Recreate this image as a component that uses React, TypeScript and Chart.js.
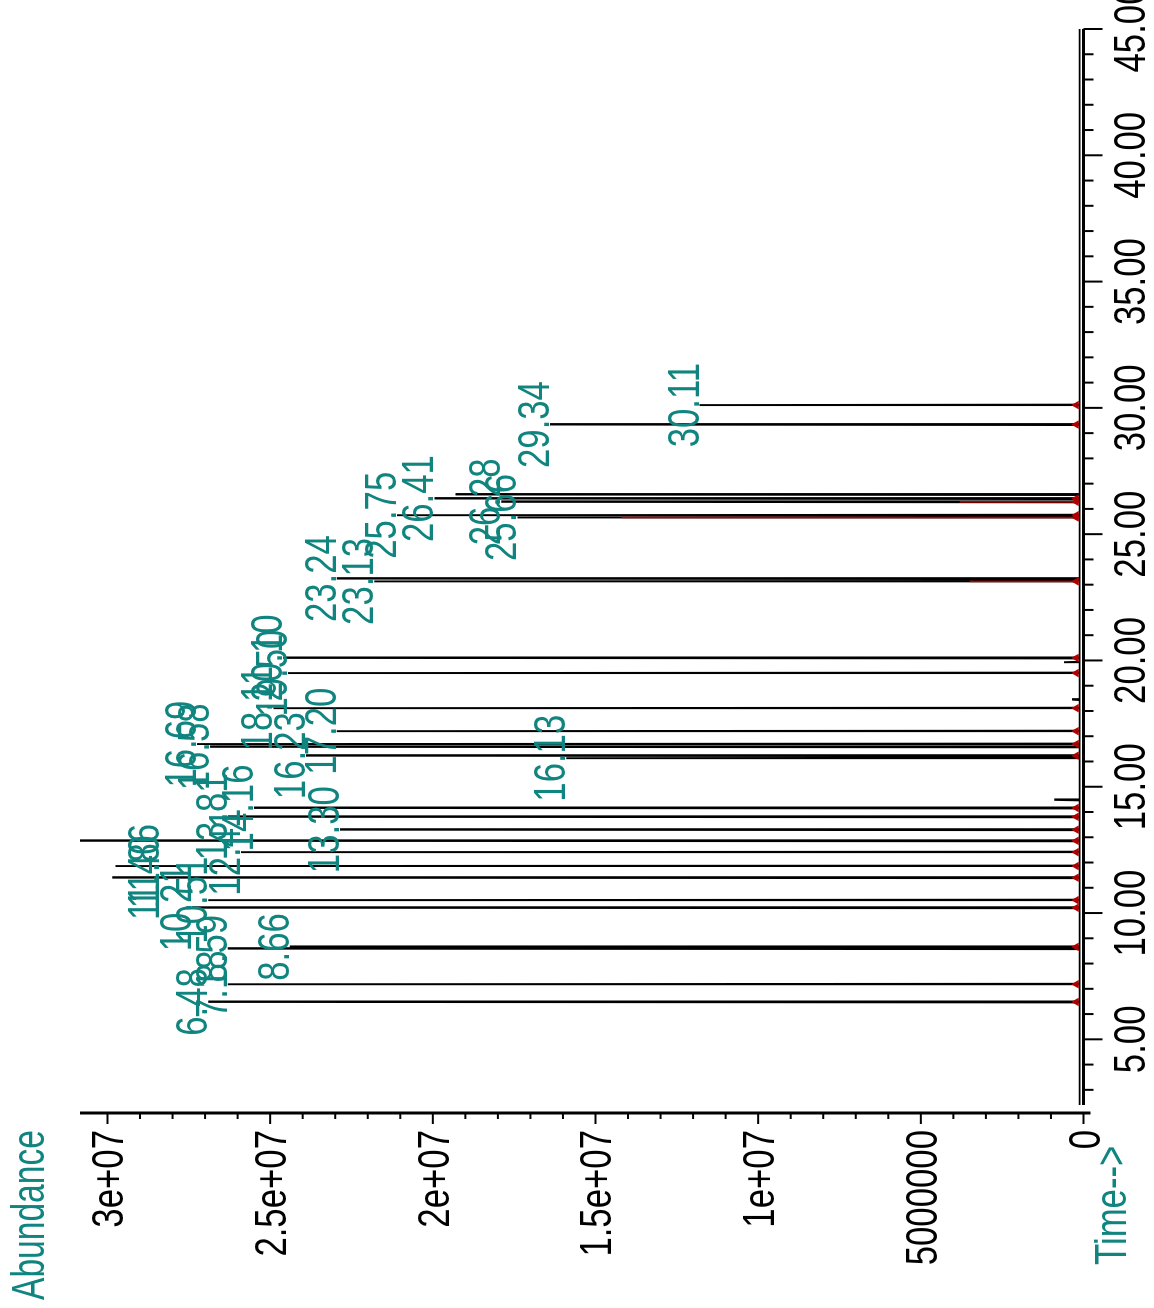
import { useEffect, useRef } from 'react';
import { Chart, registerables } from 'chart.js';

Chart.register(...registerables);

// ---- data (retention time in min, abundance in counts) ----
const peakTimes = [6.48, 7.18, 8.59, 8.66, 10.21, 10.51, 11.40, 11.86, 12.41, 12.86, 13.30, 13.81, 14.16, 14.48, 16.13, 16.23, 16.58, 16.69, 17.20, 18.11, 18.45, 19.50, 19.93, 20.10, 23.13, 23.24, 25.66, 25.75, 26.28, 26.41, 26.57, 29.34, 30.11];
const peakHeights = [26.9e6, 26.3e6, 26.3e6, 24.4e6, 27.4e6, 26.9e6, 29.85e6, 29.75e6, 25.9e6, 31.5e6, 22.85e6, 26.3e6, 25.5e6, 0.9e6, 15.9e6, 23.9e6, 26.85e6, 27.25e6, 22.95e6, 24.9e6, 0.35e6, 24.45e6, 0.6e6, 24.6e6, 21.8e6, 22.95e6, 17.4e6, 21.1e6, 17.9e6, 19.95e6, 19.3e6, 16.4e6, 11.8e6];
const peakLabels = ['6.48', '7.18', '8.59', '8.66', '10.21', '10.51', '11.40', '11.86', '12.41', '', '13.30', '13.81', '14.16', '', '16.13', '16.23', '16.58', '16.69', '17.20', '18.11', '', '19.50', '', '20.10', '23.13', '23.24', '25.66', '25.75', '26.28', '26.41', '', '29.34', '30.11'];
// abundance at which a label sits when it is not at the apex
const labelLevelOverrides: Record<string, number> = { '11.40': 28.4e6, '11.86': 28.4e6 };
// integration markers (red)
const integratedTimes = [6.48, 7.18, 8.66, 10.21, 10.51, 11.40, 11.86, 12.41, 12.86, 13.30, 13.81, 14.16, 16.23, 16.69, 17.20, 18.11, 19.50, 20.10, 23.13, 25.66, 25.75, 26.28, 26.41, 29.34, 30.11];
const redOverlayTimes = [23.13, 25.66, 26.28];
const redOverlayHeights = [3.5e6, 14.2e6, 3.8e6];
const baselineLevel = 120000;

const timeMajorTicks = [5, 10, 15, 20, 25, 30, 35, 40, 45];
const timeMinorStep = 1;
const abundanceMajorTicks = [0, 5e6, 1e7, 1.5e7, 2e7, 2.5e7, 3e7];
const abundanceTickLabels = ['0', '5000000', '1e+07', '1.5e+07', '2e+07', '2.5e+07', '3e+07'];
const abundanceMinorStep = 1e6;

const TIME_MIN = 2.4;
const TIME_MAX = 45;
const ABUND_MAX = 30845000;

const TEAL = '#10857f';
const RED = '#b00000';
const FONT = "'Liberation Sans', Arial, sans-serif";
const FS = 44;
const SX = 0.79;

function drawText(ctx: CanvasRenderingContext2D, text: string, x: number, y: number, align: 'left' | 'center' | 'right', color: string, size = FS, sx = SX) {
  ctx.save();
  ctx.font = `${size}px ${FONT}`;
  ctx.fillStyle = color;
  ctx.textBaseline = 'alphabetic';
  ctx.textAlign = 'left';
  const w = ctx.measureText(text).width * sx;
  let x0 = x;
  if (align === 'center') x0 = x - w / 2;
  if (align === 'right') x0 = x - w;
  ctx.translate(x0, y);
  ctx.scale(sx, 1);
  ctx.fillText(text, 0, 0);
  ctx.restore();
}

const decorPlugin = {
  id: 'decor',
  afterDatasetsDraw(chart: any) {
    const { ctx, chartArea, scales } = chart;
    const xs = scales.x;
    const ys = scales.y;
    const y0 = chartArea.bottom;
    const yAxisX = chartArea.left - 8;
    ctx.save();
    ctx.strokeStyle = '#000';
    ctx.lineWidth = 3;
    ctx.beginPath();
    ctx.moveTo(chartArea.left, y0);
    ctx.lineTo(chartArea.right, y0);
    ctx.stroke();
    ctx.beginPath();
    ctx.moveTo(yAxisX, chartArea.top);
    ctx.lineTo(yAxisX, y0 + 7);
    ctx.stroke();
    ctx.lineWidth = 2;
    for (let t = Math.ceil(TIME_MIN); t <= TIME_MAX; t += timeMinorStep) {
      const px = xs.getPixelForValue(t);
      const major = timeMajorTicks.includes(t);
      ctx.beginPath();
      ctx.moveTo(px, y0);
      ctx.lineTo(px, y0 + (major ? 19 : 10));
      ctx.stroke();
    }
    for (let a = 0; a <= ABUND_MAX; a += abundanceMinorStep) {
      const py = ys.getPixelForValue(a);
      const major = abundanceMajorTicks.includes(a);
      ctx.beginPath();
      ctx.moveTo(yAxisX, py);
      ctx.lineTo(yAxisX - (major ? 11 : 6), py);
      ctx.stroke();
    }
    ctx.restore();

    timeMajorTicks.forEach((t) => {
      drawText(ctx, t.toFixed(2), xs.getPixelForValue(t), y0 + 61, 'center', '#000');
    });
    abundanceMajorTicks.forEach((a, i) => {
      drawText(ctx, abundanceTickLabels[i], yAxisX - 17, ys.getPixelForValue(a) + 16, 'right', '#000');
    });

    ctx.save();
    ctx.beginPath();
    ctx.rect(chartArea.left - 40, chartArea.top, chartArea.right - chartArea.left + 80, chartArea.bottom - chartArea.top);
    ctx.clip();
    peakTimes.forEach((t, i) => {
      const label = peakLabels[i];
      if (!label) return;
      const level = labelLevelOverrides[label] ?? peakHeights[i];
      if (level > ABUND_MAX) return;
      drawText(ctx, label, xs.getPixelForValue(t), ys.getPixelForValue(level) - 1, 'center', TEAL);
    });
    ctx.restore();

    drawText(ctx, 'Abundance', 8, 44, 'left', TEAL, 46, 0.73);
    drawText(ctx, 'Time-->', 43, 1126, 'left', TEAL);
  },
};

export default function App() {
  const ref = useRef<HTMLCanvasElement | null>(null);

  useEffect(() => {
    document.body.style.margin = '0';
    const canvas = ref.current;
    if (!canvas) return;

    const order = peakTimes.map((_, i) => i).sort((a, b) => peakTimes[a] - peakTimes[b]);
    const pts: { x: number; y: number }[] = [{ x: TIME_MIN, y: baselineLevel }];
    order.forEach((i) => {
      const t = peakTimes[i];
      pts.push({ x: t - 0.02, y: baselineLevel });
      pts.push({ x: t, y: peakHeights[i] });
      pts.push({ x: t + 0.02, y: baselineLevel });
    });
    pts.push({ x: TIME_MAX, y: baselineLevel });

    const redPts: { x: number; y: number | null }[] = [];
    redOverlayTimes.forEach((t, i) => {
      redPts.push({ x: t, y: baselineLevel });
      redPts.push({ x: t, y: redOverlayHeights[i] });
      redPts.push({ x: t, y: null });
    });

    const chart = new Chart(canvas, {
      type: 'line',
      data: {
        datasets: [
          {
            type: 'scatter',
            data: integratedTimes.map((t) => ({ x: t, y: 220000 })),
            pointStyle: 'triangle',
            pointRadius: 5,
            pointBackgroundColor: RED,
            pointBorderColor: RED,
            pointBorderWidth: 0,
            showLine: false,
          },
          {
            data: redPts,
            borderColor: RED,
            borderWidth: 1.6,
            pointRadius: 0,
            spanGaps: false,
            tension: 0,
            fill: false,
          },
          {
            data: pts,
            borderColor: '#000',
            borderWidth: 1.9,
            pointRadius: 0,
            tension: 0,
            fill: false,
          },
        ],
      },
      options: {
        animation: false,
        responsive: false,
        maintainAspectRatio: false,
        events: [],
        layout: { padding: { left: 0, right: 1400 - 1279, top: 80, bottom: 0 } },
        plugins: { legend: { display: false }, tooltip: { enabled: false }, title: { display: false } },
        scales: {
          x: {
            type: 'linear',
            min: TIME_MIN,
            max: TIME_MAX,
            afterBuildTicks: (s: any) => {
              s.ticks = timeMajorTicks.map((v) => ({ value: v }));
            },
            afterFit: (s: any) => {
              s.height = 1154 - 1083.5;
            },
            grid: { display: false },
            border: { display: false },
            ticks: { display: false },
          },
          y: {
            type: 'linear',
            min: 0,
            max: ABUND_MAX,
            afterBuildTicks: (s: any) => {
              s.ticks = abundanceMajorTicks.map((v) => ({ value: v }));
            },
            afterFit: (s: any) => {
              s.width = 203;
            },
            grid: { display: false },
            border: { display: false },
            ticks: { display: false },
          },
        },
      } as any,
      plugins: [decorPlugin],
    });
    return () => chart.destroy();
  }, []);

  return (
    <div
      style={{
        position: 'fixed',
        left: 0,
        top: 0,
        width: 1308,
        height: 1154,
        overflow: 'hidden',
        background: '#fff',
        transformOrigin: '0 0',
        transform: 'translate(0px, 1308px) rotate(-90deg)',
      }}
    >
      <canvas ref={ref} width={1400} height={1154} style={{ width: 1400, height: 1154, display: 'block' }} />
    </div>
  );
}
